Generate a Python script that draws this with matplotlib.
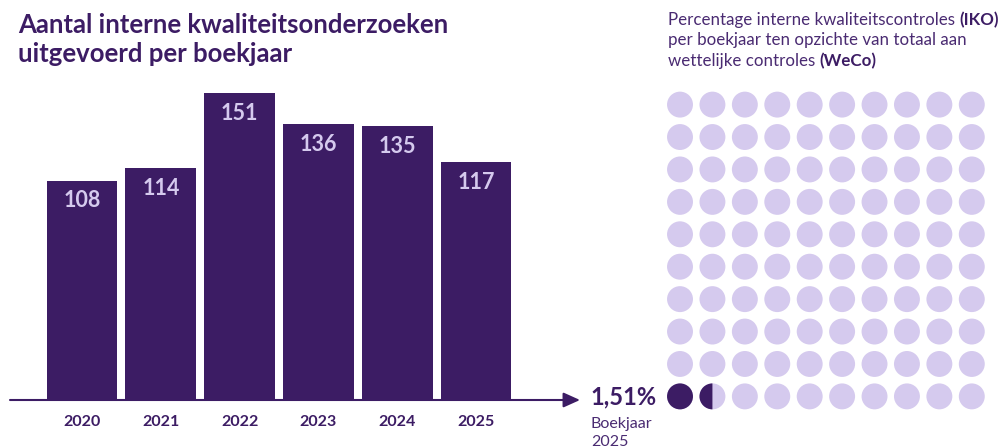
import matplotlib.pyplot as plt
from matplotlib.patches import Circle, Wedge
from matplotlib.text import Annotation

years = ["2020", "2021", "2022", "2023", "2024", "2025"]
counts = [108, 114, 151, 136, 135, 117]
iko_pct = 1.51
pct_label = "1,51%"

dark = "#3C1C64"
mid = "#4A2B72"
light = "#D5CAEE"
W, H = 1002, 448

plt.rcParams['font.family'] = ['Lato', 'DejaVu Sans']
fig = plt.figure(figsize=(W / 100, H / 100), dpi=100)


def box(x0, y0, x1, y1):
    # pixel box (top-left origin) -> figure fraction
    return [x0 / W, 1 - y1 / H, (x1 - x0) / W, (y1 - y0) / H]


# bar chart
ax = fig.add_axes(box(10, 75, 580, 400))
pos = list(range(len(years)))
ax.bar(pos, counts, width=0.9, color=dark)
ax.set_xlim(-0.914, 6.32)
ax.set_ylim(0, 160)
for p, c in zip(pos, counts):
    ax.text(p, c - 10, str(c), ha="center", va="center", color=light,
            fontsize=15.5, fontweight="bold")
for s in ax.spines.values():
    s.set_visible(False)
ax.set_yticks([])
ax.set_xticks(pos)
ax.set_xticklabels(years, fontsize=11.5, fontweight="bold", color=dark)
ax.tick_params(axis="x", length=0, pad=11)
ax.annotate("", xy=(1, 0), xytext=(0, 0), xycoords="axes fraction",
            arrowprops=dict(arrowstyle="-|>,head_length=1.0,head_width=0.45",
                            color=dark, lw=1.5, shrinkA=0, shrinkB=0),
            annotation_clip=False)

fig.text(18 / W, 1 - 33 / H, "Aantal interne kwaliteitsonderzoeken", fontsize=18.5,
         fontweight="bold", color=dark, va="baseline")
fig.text(18 / W, 1 - 62 / H, "uitgevoerd per boekjaar", fontsize=18.5,
         fontweight="bold", color=dark, va="baseline")

# right text, bold parts chained after the normal parts
lines = [[("Percentage interne kwaliteitscontroles ", "normal"), ("(IKO)", "bold")],
         [("per boekjaar ten opzichte van totaal aan", "normal")],
         [("wettelijke controles ", "normal"), ("(WeCo)", "bold")]]
for i, parts in enumerate(lines):
    last = None
    for txt, wt in parts:
        if last is None:
            last = fig.text(668 / W, 1 - (25 + i * 20.5) / H, txt, fontsize=12.2,
                            fontweight=wt, color=mid, va="baseline")
        else:
            last = fig.add_artist(Annotation(txt, xy=(1, 0), xycoords=last,
                                             va="bottom", fontsize=12.2,
                                             fontweight=wt, color=dark))

fig.text(590 / W, 1 - 404 / H, pct_label, fontsize=17, fontweight="bold",
         color=dark, va="baseline")
fig.text(591 / W, 1 - 428 / H, "Boekjaar", fontsize=11.5, color=mid, va="baseline")
fig.text(591 / W, 1 - 446 / H, "2025", fontsize=11.5, color=mid, va="baseline")

# dot grid
ax2 = fig.add_axes(box(663.8, 87.7, 988, 413.3))
ax2.set_xlim(-0.5, 9.5)
ax2.set_ylim(-0.5, 9.5)
ax2.set_aspect("equal")
ax2.axis("off")
r = 0.4
for row in range(10):
    for col in range(10):
        idx = row * 10 + col
        frac = min(max(iko_pct - idx, 0), 1)
        ax2.add_patch(Circle((col, row), r, color=light, lw=0))
        if frac >= 0.99:
            ax2.add_patch(Circle((col, row), r, color=dark, lw=0))
        elif frac > 0:
            ax2.add_patch(Wedge((col, row), r, 90, 270, color=dark, lw=0))

fig.savefig("out.png", dpi=100)
